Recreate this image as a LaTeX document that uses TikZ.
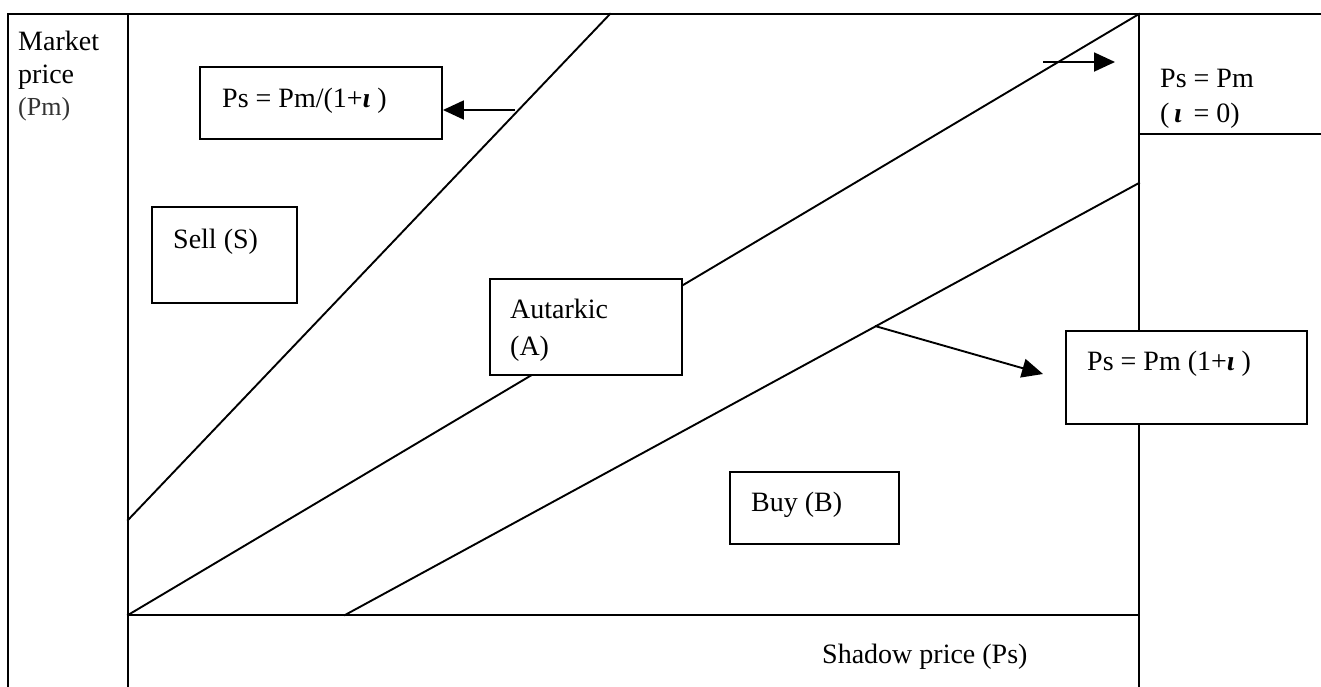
\documentclass[tikz,border=0pt]{standalone}
\usepackage{fontspec}
\setmainfont{Liberation Serif}
\usetikzlibrary{arrows.meta}
\begin{document}
\begin{tikzpicture}[x=1pt,y=-1pt,
  ln/.style={line width=1.9pt, line cap=rect},
  box/.style={draw, line width=1.9pt, fill=white, inner sep=0pt},
  lbl/.style={font=\fontsize{28}{34}\selectfont, anchor=base west, inner sep=0pt},
  arr/.style={line width=1.9pt, -{Triangle[length=21pt,width=19pt]}}]
\useasboundingbox (0,0) rectangle (1321,686);
% frame coordinates
\coordinate (tl) at (8,14);
\coordinate (tr) at (1321,14);
\coordinate (bl) at (8,686);
\coordinate (at) at (128,14);
\coordinate (ab) at (128,686);
\coordinate (rt) at (1139,14);
\coordinate (rb) at (1139,686);
\coordinate (o) at (128,615);
\coordinate (xe) at (1139,615);
\coordinate (sr) at (1139,134);
\coordinate (se) at (1321,134);
% price lines
\coordinate (s1) at (128,520);
\coordinate (s2) at (610,14);
\coordinate (l1) at (345,615);
\coordinate (l2) at (1139,183);
\draw[ln] (tl) -- (tr);
\draw[ln] (tl) -- (bl);
\draw[ln] (at) -- (ab);
\draw[ln] (rt) -- (rb);
\draw[ln, line width=2.4pt] (o) -- (xe);
\draw[ln] (sr) -- (se);
\draw[ln] (s1) -- (s2);
\draw[ln] (o) -- (rt);
\draw[ln] (l1) -- (l2);
% boxes
\node[box, minimum width=242pt, minimum height=72pt] (bsell) at (321,103) {};
\node[box, minimum width=145pt, minimum height=96pt] (sell) at (224.5,255) {};
\node[box, minimum width=192pt, minimum height=96pt] (aut) at (586,327) {};
\node[box, minimum width=169pt, minimum height=72pt] (buy) at (814.5,508) {};
\node[box, minimum width=241pt, minimum height=93pt] (bbuy) at (1186.5,377.5) {};
% texts
\node[lbl] (t1) at (222,107) {Ps = Pm/(1+\textbf{\textit{ι}} )};
\node[lbl] (t2) at (173,248) {Sell (S)};
\node[lbl] (t3) at (510,318) {Autarkic};
\node[lbl] (t4) at (510,355) {(A)};
\node[lbl] (t5) at (751,511) {Buy (B)};
\node[lbl] (t6) at (1087,370) {Ps = Pm (1+\textbf{\textit{ι}} )};
\node[lbl] (t7) at (1160,87) {Ps = Pm};
\node[lbl] (t8) at (1160,122) {(\,\textbf{\textit{ι}}\, = 0)};
\node[lbl] (t9) at (18,50) {Market};
\node[lbl] (t10) at (18,83) {price};
\node[lbl, font=\fontsize{26}{30}\selectfont, text=black!80] (t11) at (18,115) {(Pm)};
\node[lbl] (t12) at (822,663) {Shadow price (Ps)};
% arrows
\coordinate (a1) at (515,110);
\draw[arr] (a1) -- (bsell.east |- a1);
\coordinate (a2) at (875,326);
\coordinate (a2e) at (1043,374);
\draw[arr] (a2) -- (a2e);
\coordinate (a3) at (1043,62);
\coordinate (a3e) at (1115,62);
\draw[arr] (a3) -- (a3e);
\end{tikzpicture}
\end{document}
